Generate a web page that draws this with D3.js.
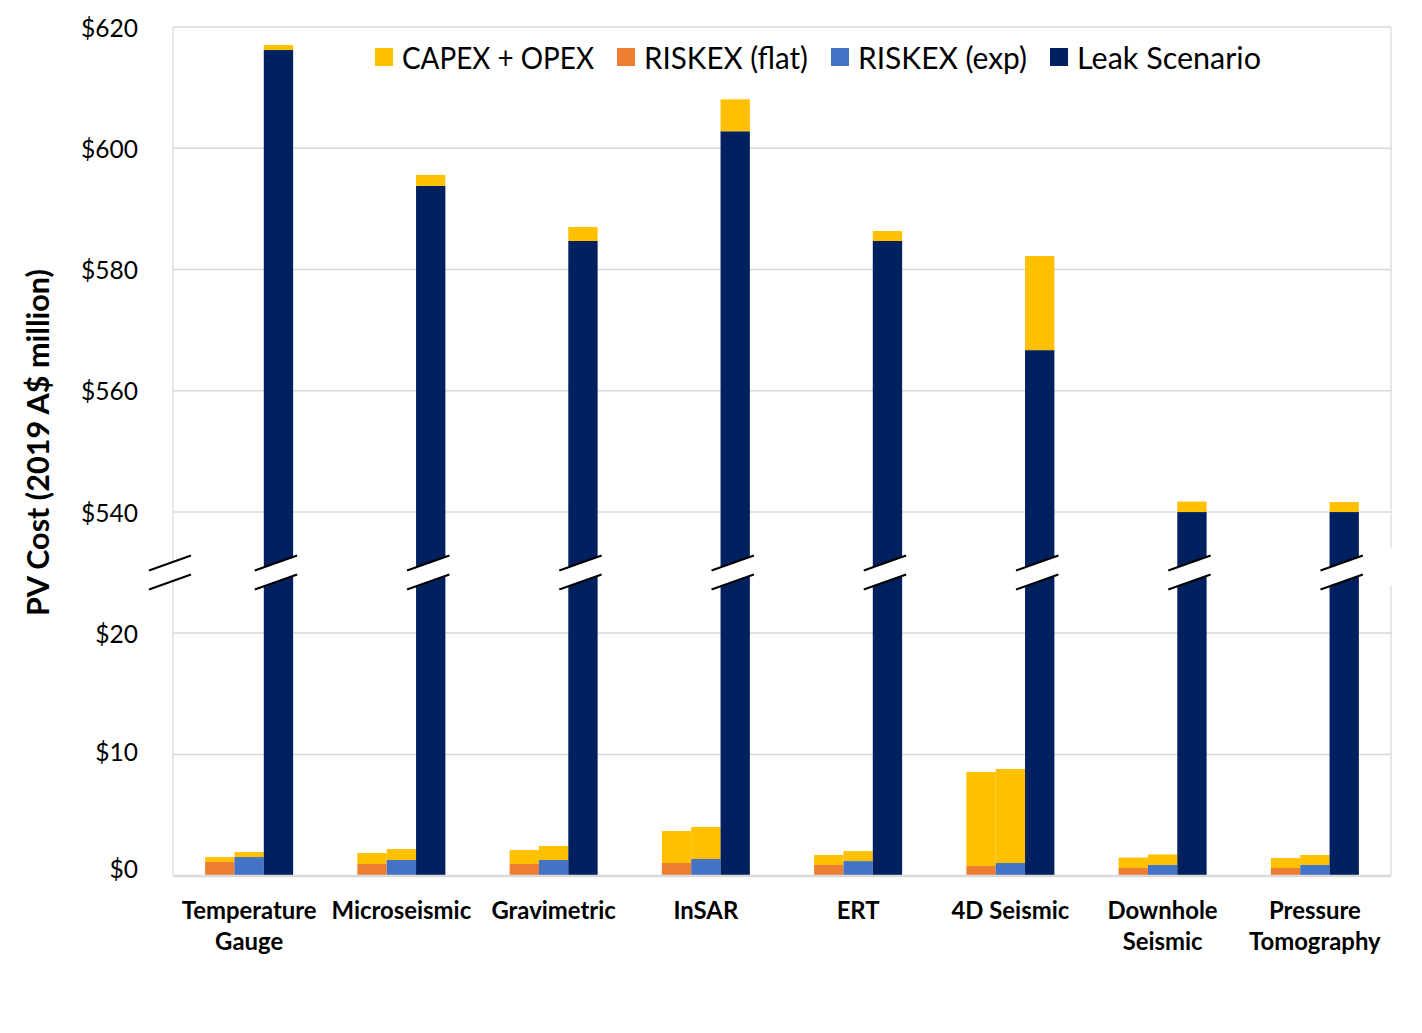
<!DOCTYPE html>
<html>
<head>
<meta charset="utf-8">
<script src="https://cdn.jsdelivr.net/npm/d3@7"></script>
<style>
  html, body { margin: 0; padding: 0; background: #ffffff; }
  svg { display: block; }
  text { font-family: Lato, "Open Sans", "Liberation Sans", sans-serif; fill: #000; }
</style>
</head>
<body>
<svg id="chart" width="1422" height="1033"></svg>
<script>
// ---------------- DATA ----------------
const categories = ["Temperature Gauge", "Microseismic", "Gravimetric", "InSAR", "ERT", "4D Seismic", "Downhole Seismic", "Pressure Tomography"];
const categoryLines = [["Temperature", "Gauge"], ["Microseismic"], ["Gravimetric"], ["InSAR"], ["ERT"], ["4D Seismic"], ["Downhole", "Seismic"], ["Pressure", "Tomography"]];
const seriesNames = ["CAPEX + OPEX", "RISKEX (flat)", "RISKEX (exp)", "Leak Scenario"];
const capexOpex   = [0.41, 0.90, 1.15, 2.63, 0.82, 7.74, 0.86, 0.82];
const riskexFlat  = [1.15, 0.99, 0.99, 1.07, 0.91, 0.82, 0.66, 0.66];
const riskexExp   = [1.56, 1.32, 1.32, 1.40, 1.23, 1.07, 0.91, 0.91];
const leakScenario = [616.2, 593.8, 584.7, 602.8, 584.7, 566.7, 539.8, 539.8];
const tickValues = [0, 10, 20, 540, 560, 580, 600, 620];
const tickLabels = ["$0", "$10", "$20", "$540", "$560", "$580", "$600", "$620"];
const yTitle = "PV Cost (2019 A$ million)";

// ---------------- STYLE ----------------
const colors = { capex: "#FFC000", flat: "#ED7D31", exp: "#4472C4", leak: "#002060" };
const seriesColors = [colors.capex, colors.flat, colors.exp, colors.leak];
const plot = { left: 173, right: 1391, top: 27, bottom: 876 };
const gridColor = "#d9d9d9";

const svg = d3.select("#chart");

// broken y axis: lower segment 0–20, upper segment 540–620
const y = d3.scaleLinear()
  .domain([0, 20, 540, 620])
  .range([plot.bottom, 633, 512, plot.top]);

const x = d3.scaleBand().domain(categories).range([plot.left, plot.right]).padding(0);
const inner = d3.scaleBand().domain(["flat", "exp", "leak"]).range([-44, 44]).padding(0);

// gridlines
svg.append("g").selectAll("line").data(tickValues.filter(v => v !== 0)).join("line")
  .attr("x1", plot.left).attr("x2", plot.right)
  .attr("y1", d => y(d)).attr("y2", d => y(d))
  .attr("stroke", gridColor).attr("stroke-width", 1.5);

// plot border (left, right)
svg.append("line").attr("x1", plot.left).attr("x2", plot.left).attr("y1", plot.top).attr("y2", plot.bottom)
  .attr("stroke", gridColor).attr("stroke-width", 1.2);
svg.append("line").attr("x1", plot.right).attr("x2", plot.right).attr("y1", plot.top).attr("y2", plot.bottom)
  .attr("stroke", gridColor).attr("stroke-width", 1.2);

// bars
const g = svg.append("g");
categories.forEach((c, i) => {
  const cx = x(c) + x.bandwidth() / 2;
  const bw = inner.bandwidth();
  const stacks = [
    { key: "flat", base: riskexFlat[i], color: colors.flat },
    { key: "exp", base: riskexExp[i], color: colors.exp }
  ];
  stacks.forEach(s => {
    const bx = cx + inner(s.key);
    g.append("rect").attr("x", bx).attr("width", bw)
      .attr("y", y(s.base)).attr("height", y(0) - y(s.base)).attr("fill", s.color);
    g.append("rect").attr("x", bx).attr("width", bw)
      .attr("y", y(s.base + capexOpex[i])).attr("height", y(s.base) - y(s.base + capexOpex[i])).attr("fill", colors.capex);
  });
  // Leak scenario + capex (capex drawn at lower-segment scale)
  const lx = cx + inner("leak");
  g.append("rect").attr("x", lx).attr("width", bw)
    .attr("y", y(leakScenario[i])).attr("height", y(0) - y(leakScenario[i])).attr("fill", colors.leak);
  const capH = y(0) - y(capexOpex[i]);
  g.append("rect").attr("x", lx).attr("width", bw)
    .attr("y", y(leakScenario[i]) - capH).attr("height", capH).attr("fill", colors.capex);
});

// bottom axis line
svg.append("line").attr("x1", plot.left).attr("x2", plot.right).attr("y1", plot.bottom).attr("y2", plot.bottom)
  .attr("stroke", gridColor).attr("stroke-width", 2.5);

// break marks
const breakMid = (y(20) + y(540)) / 2;
function breakMark(x0, x1) {
  const half = (x1 - x0) * 15 / 42 / 2;
  const off = 9.5;
  const gb = svg.append("g");
  gb.append("path")
    .attr("d", `M${x0},${breakMid - off + half} L${x1},${breakMid - off - half} L${x1},${breakMid + off - half} L${x0},${breakMid + off + half} Z`)
    .attr("fill", "#fff");
  [-off, off].forEach(o => {
    gb.append("line")
      .attr("x1", x0).attr("y1", breakMid + o + half)
      .attr("x2", x1).attr("y2", breakMid + o - half)
      .attr("stroke", "#000").attr("stroke-width", 2);
  });
}
breakMark(plot.left - 24, plot.left + 18);
categories.forEach(c => {
  const cx = x(c) + x.bandwidth() / 2;
  const lx = cx + inner("leak");
  breakMark(lx - 9, lx + inner.bandwidth() + 4);
});
svg.append("rect").attr("x", plot.right - 3).attr("y", breakMid - 25).attr("width", 6).attr("height", 38).attr("fill", "#fff");

// font fitting helper
function fitSize(text, weight, targetWidth, start) {
  const t = svg.append("text").attr("font-size", start).attr("font-weight", weight).text(text);
  const w = t.node().getComputedTextLength();
  t.remove();
  return start * targetWidth / w;
}

// y tick labels
const tickSize = fitSize("$620", "normal", 57, 24);
svg.append("g").selectAll("text").data(tickValues).join("text")
  .attr("x", 138).attr("y", d => y(d) - (d === 0 ? 8 : (d === 10 ? 3 : 0)))
  .attr("text-anchor", "end").attr("dominant-baseline", "central")
  .attr("font-size", tickSize)
  .text((d, i) => tickLabels[i]);

// y title
const titleSize = fitSize(yTitle, "bold", 347, 30);
svg.append("text")
  .attr("transform", `translate(37,${(268 + 617) / 2}) rotate(-90)`)
  .attr("text-anchor", "middle").attr("dominant-baseline", "central")
  .attr("font-weight", "bold").attr("font-size", titleSize)
  .text(yTitle);

// x labels
const xlSize = fitSize("Temperature", "bold", 135, 22);
categories.forEach((c, i) => {
  const cx = x(c) + x.bandwidth() / 2;
  const t = svg.append("text").attr("text-anchor", "middle").attr("font-weight", "bold").attr("font-size", xlSize);
  categoryLines[i].forEach((ln, j) => {
    t.append("tspan").attr("x", cx).attr("y", 909 + j * 31).attr("dominant-baseline", "central").text(ln);
  });
});

// legend
const legSize = 30;
const legendX = [375, 617, 831, 1050];
const legendTextW = [192, 164, 169, 184];
const lg = svg.append("g");
seriesNames.forEach((s, i) => {
  lg.append("rect").attr("x", legendX[i]).attr("y", 48).attr("width", 18).attr("height", 18).attr("fill", seriesColors[i]);
  lg.append("text").attr("x", legendX[i] + 27).attr("y", 57).attr("dominant-baseline", "central")
    .attr("font-size", legSize)
    .attr("textLength", legendTextW[i]).attr("lengthAdjust", "spacingAndGlyphs")
    .text(s);
});
</script>
</body>
</html>
